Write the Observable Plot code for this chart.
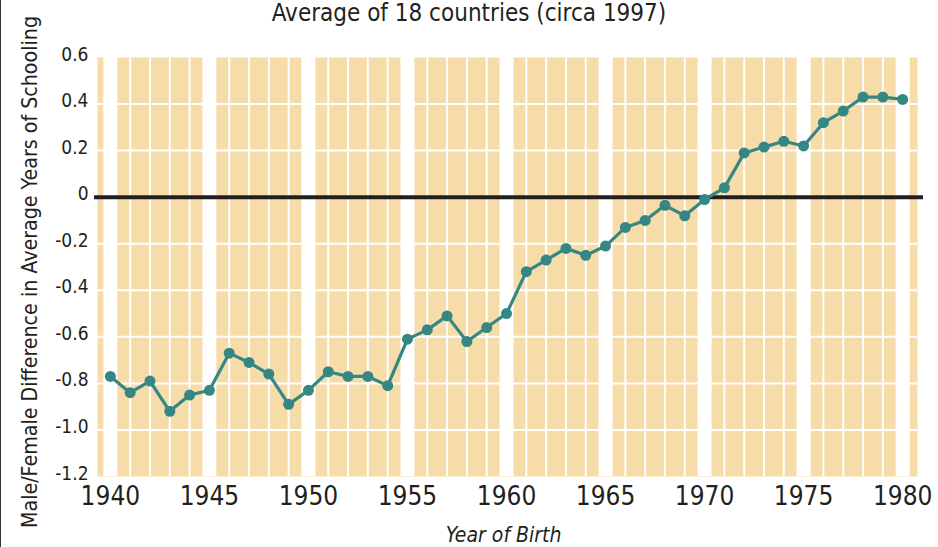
<!DOCTYPE html>
<html>
<head>
<meta charset="utf-8">
<script src="https://cdn.jsdelivr.net/npm/d3@7"></script>
<script src="https://cdn.jsdelivr.net/npm/@observablehq/plot@0.6"></script>
<style>
  html, body { margin: 0; padding: 0; background: #fff; }
  #wrap { position: relative; width: 938px; height: 547px; overflow: hidden; }
  #title {
    position: absolute; left: 0; top: 0; width: 938px; text-align: center;
    font-family: "DejaVu Sans Condensed", "DejaVu Sans", sans-serif; font-stretch: condensed;
    font-size: 24px; line-height: 26px; color: #231f20; letter-spacing: 0px;
  }
  #edge { position: absolute; left: 0; top: 0; width: 1px; height: 547px; background: #333; }
  svg { font-family: "DejaVu Sans Condensed", "DejaVu Sans", sans-serif; font-stretch: condensed; }
</style>
</head>
<body>
<div id="wrap">
  <div id="chart"></div>
  <div id="title">Average of 18 countries (circa 1997)</div>
  <div id="edge"></div>
</div>
<script>
const titleText = "Average of 18 countries (circa 1997)";
const xLabel = "Year of Birth";
const yLabel = "Male/Female Difference in Average Years of Schooling";

const years = [1940, 1941, 1942, 1943, 1944, 1945, 1946, 1947, 1948, 1949,
               1950, 1951, 1952, 1953, 1954, 1955, 1956, 1957, 1958, 1959,
               1960, 1961, 1962, 1963, 1964, 1965, 1966, 1967, 1968, 1969,
               1970, 1971, 1972, 1973, 1974, 1975, 1976, 1977, 1978, 1979, 1980];
const gap = [-0.77, -0.84, -0.79, -0.92, -0.85, -0.83, -0.67, -0.71, -0.76, -0.89,
             -0.83, -0.75, -0.77, -0.77, -0.81, -0.61, -0.57, -0.51, -0.62, -0.56,
             -0.50, -0.32, -0.27, -0.22, -0.25, -0.21, -0.13, -0.10, -0.035, -0.08,
             -0.01, 0.04, 0.19, 0.215, 0.24, 0.22, 0.32, 0.37, 0.43, 0.43, 0.42];

const xTicks = [1940, 1945, 1950, 1955, 1960, 1965, 1970, 1975, 1980];
const yTicks = [0.6, 0.4, 0.2, 0, -0.2, -0.4, -0.6, -0.8, -1.0, -1.2];
const yTickLabels = ["0.6", "0.4", "0.2", "0", "-0.2", "-0.4", "-0.6", "-0.8", "-1.0", "-1.2"];

const xDomain = [1939.35, 1980.75];
const yDomain = [-1.2, 0.6];

const tan = "#f6dca8";
const teal = "#358784";
const ink = "#231f20";

const data = years.map((y, i) => ({year: y, value: gap[i]}));
const thinYears = years.filter(y => y % 5 !== 0);
const innerY = yTicks.filter(v => v !== 0 && v !== yDomain[0] && v !== yDomain[1]);
const labelOf = new Map(yTicks.map((v, i) => [v, yTickLabels[i]]));

const chart = Plot.plot({
  width: 938,
  height: 547,
  marginTop: 57,
  marginBottom: 71,
  marginLeft: 97,
  marginRight: 21,
  x: {domain: xDomain},
  y: {domain: yDomain},
  style: {background: "transparent", color: ink},
  marks: [
    Plot.frame({fill: tan, stroke: null}),
    Plot.ruleX(thinYears, {stroke: "white", strokeWidth: 2}),
    Plot.ruleX(xTicks, {stroke: "white", strokeWidth: 14}),
    Plot.ruleY(innerY, {stroke: "white", strokeWidth: 2}),
    Plot.ruleY([0], {stroke: ink, strokeWidth: 4, insetLeft: -3, insetRight: -6}),
    Plot.line(data, {x: "year", y: "value", stroke: teal, strokeWidth: 3.2}),
    Plot.dot(data, {x: "year", y: "value", r: 5.5, fill: teal, stroke: null}),
    Plot.axisX({ticks: xTicks, tickSize: 0, tickPadding: 10, fontSize: 26, label: null,
                tickFormat: d => String(d), fill: ink}),
    Plot.axisY({ticks: yTicks, tickSize: 0, tickPadding: 9, fontSize: 19, label: null, dy: -3,
                tickFormat: d => labelOf.get(d), fill: ink}),
    Plot.text([xLabel], {frameAnchor: "bottom", lineAnchor: "bottom", dy: 65, dx: -4,
                         fontSize: 21, fontStyle: "italic", fill: ink, letterSpacing: "1px"}),
    Plot.text([yLabel], {frameAnchor: "left", textAnchor: "middle", rotate: -90, dx: -68, dy: 5,
                         fontSize: 22, fill: ink})
  ]
});
document.getElementById("chart").appendChild(chart);

// fit the long vertical label to the reference's length
d3.select(chart).selectAll("text")
  .filter(function() { return this.textContent === yLabel; })
  .attr("textLength", 512)
  .attr("lengthAdjust", "spacingAndGlyphs");
</script>
</body>
</html>
